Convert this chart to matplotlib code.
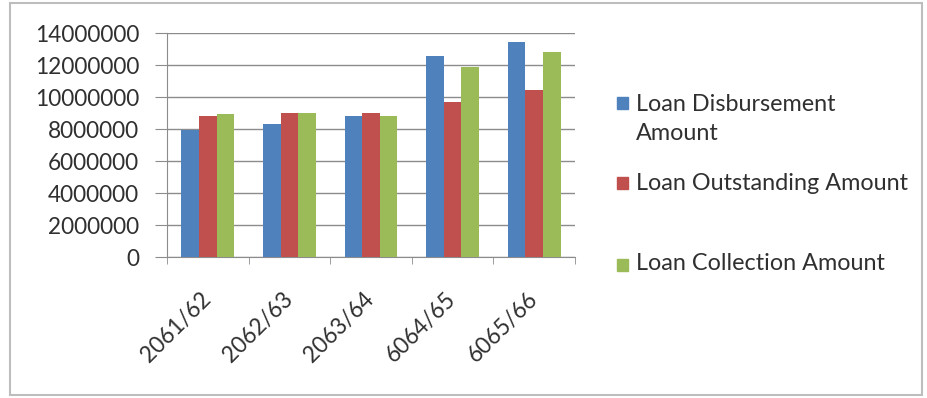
import matplotlib.pyplot as plt
import matplotlib.patches as mpatches
import numpy as np

years = ['2061/62', '2062/63', '2063/64', '6064/65', '6065/66']
disbursement = [7920000, 8330000, 8820000, 12540000, 13440000]
outstanding = [8790000, 9000000, 8990000, 9690000, 10420000]
collection = [8920000, 8990000, 8830000, 11870000, 12810000]

series_names = ['Loan Disbursement\nAmount', 'Loan Outstanding Amount', 'Loan Collection Amount']
colors = ['#4F81BD', '#C0504D', '#9BBB59']

plt.rcParams['font.family'] = ['Lato', 'DejaVu Sans']

W, H = 927, 398
fig = plt.figure(figsize=(W / 100, H / 100), dpi=100)
ax = fig.add_axes([167 / W, 1 - 257 / H, (575 - 167) / W, (257 - 33) / H])

x = np.arange(len(years))
bw = 0.216
for i, (vals, c) in enumerate(zip([disbursement, outstanding, collection], colors)):
    ax.bar(x + (i - 1) * bw, vals, width=bw, color=c, zorder=3)

ax.set_xlim(-0.5, len(years) - 0.5)
ax.set_ylim(0, 14000000)
ax.set_yticks(np.arange(0, 14000001, 2000000))
ax.set_yticklabels([str(v) for v in range(0, 14000001, 2000000)], fontsize=16.3, color='#303030')
ax.yaxis.grid(True, color='#8c8c8c', linewidth=1, zorder=0)

ax.set_xticks(x)
ax.set_xticklabels(years, rotation=45, ha='right', va='center', rotation_mode='anchor',
                   fontsize=16.3, color='#303030')
ax.set_xticks(np.arange(-0.5, len(years)), minor=True)
ax.tick_params(axis='x', which='major', length=0, pad=28)
ax.tick_params(axis='x', which='minor', length=5, color='#8c8c8c')
ax.tick_params(axis='y', length=9, color='#8c8c8c', pad=11)

for s in ['top', 'right']:
    ax.spines[s].set_visible(False)
for s in ['left', 'bottom']:
    ax.spines[s].set_color('#8c8c8c')

# legend drawn in figure pixels
marker_y = [103, 183, 265]
text_y = [119, 183, 263]
for name, c, my, ty in zip(series_names, colors, marker_y, text_y):
    fig.patches.append(mpatches.Rectangle((617 / W, 1 - (my + 6) / H), 11 / W, 12 / H,
                                          transform=fig.transFigure, color=c))
    fig.text(636 / W, 1 - ty / H, name, fontsize=16.8, color='#303030',
             va='center', ha='left', linespacing=1.49)

fig.patches.append(mpatches.Rectangle((10 / W, 1 - 395 / H), 912 / W, 392 / H,
                                      transform=fig.transFigure, fill=False,
                                      edgecolor='#bdbdbd', linewidth=1.5))

fig.savefig('out.png', dpi=100)
